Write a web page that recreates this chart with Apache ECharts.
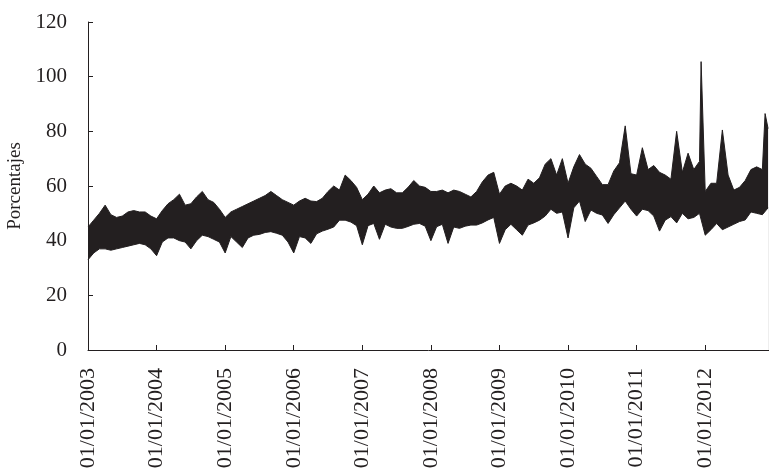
<!DOCTYPE html>
<html>
<head>
<meta charset="utf-8">
<script src="https://cdn.jsdelivr.net/npm/echarts@6/dist/echarts.min.js"></script>
<style>
  html, body { margin: 0; padding: 0; background: #fff; }
  #chart { width: 769px; height: 469px; }
</style>
</head>
<body>
<div id="chart"></div>
<script>
// monthly envelope of the daily series, Jan 2003 .. Dec 2012
const startYear = 2003
const upperVals = [
  45, 47.5, 50, 53, 49.5, 48.5, 49, 50.5, 51, 50.5, 50.5, 49,
  48, 51, 53.5, 55, 57, 53, 53.5, 56, 58, 55, 54, 51.5,
  48.5, 50.5, 51.5, 52.5, 53.5, 54.5, 55.5, 56.5, 58, 56.5, 55, 54,
  53, 54.5, 55.5, 54.5, 54.3, 55.5, 58, 60, 58.5, 64, 62, 59.5,
  55, 57, 60, 57.5, 58.5, 59, 57.5, 57.5, 59.5, 62, 60, 59.5,
  58, 58, 58.5, 57.5, 58.5, 58, 57, 56, 58, 61.5, 64, 65,
  57, 60, 61, 60, 58.5, 62.5, 61, 63, 68, 70, 64, 70,
  61, 67, 71.5, 68, 66.5, 63.5, 60.5, 60.5, 65.5, 68.5, 82, 64.5,
  64, 74, 66, 67.5, 65, 64, 62.5, 80, 65, 72, 66, 69,
  58, 61, 61, 80.5, 64, 58.5, 59.5, 62, 66, 67, 66, 81
]
const lowerVals = [
  33, 35.5, 37, 37, 36.5, 37, 37.5, 38, 38.5, 39, 38.5, 37,
  34.5, 39.5, 41, 41, 40, 39.5, 37, 40, 42, 41.5, 40.5, 39.5,
  35.5, 41.5, 39.5, 37.5, 41, 42, 42.3, 43, 43.3, 42.7, 42, 39.5,
  35.5, 41.5, 41, 39, 42.5, 43.5, 44.2, 45, 47.5, 47.5, 46.8, 45.5,
  38.5, 45.5, 46.3, 40.5, 46, 45, 44.5, 44.5, 45.2, 46, 46.3, 45.3,
  40, 45.1, 46, 39, 45, 44.5, 45.3, 45.7, 45.7, 46.5, 47.6, 48.5,
  39, 44, 46, 44, 42, 45.7, 46.5, 47.5, 49, 51.5, 50, 50.5,
  41, 52, 54.5, 47, 51.2, 50, 49.4, 46.3, 49.5, 52, 54.5, 51.5,
  49, 51.5, 51, 49, 43.5, 47.5, 48.8, 46.5, 50, 48, 48.5, 50,
  42, 44, 46.3, 44, 45, 46, 47, 47.6, 50.5, 50, 49.5, 52
]
// isolated one-day peaks [year, value]
const spikes = [[2011.94, 105.5], [2012.873, 86.5]]
const yearTicks = [2003, 2004, 2005, 2006, 2007, 2008, 2009, 2010, 2011, 2012]

const ink = '#231f20'
const font = 'Liberation Serif'

const upperData = upperVals.map((v, i) => [startYear + i / 12, v])
  .concat(spikes)
  .sort((a, b) => a[0] - b[0])
const lowerData = lowerVals.map((v, i) => [startYear + i / 12, v])

const chart = echarts.init(document.getElementById('chart'))

chart.setOption({
  animation: false,
  grid: { left: 88, right: 0, top: 22, bottom: 119, outerBoundsMode: 'none', containLabel: false },
  xAxis: {
    type: 'value',
    min: 2003,
    max: 2012.93,
    interval: 1,
    z: 10,
    splitLine: { show: false },
    axisLine: { lineStyle: { color: ink, width: 1 } },
    axisTick: { inside: true, length: 5, lineStyle: { color: ink } },
    axisLabel: {
      rotate: 90,
      margin: 18,
      color: ink,
      fontFamily: font,
      fontSize: 22,
      formatter: v => yearTicks.includes(v) ? '01/01/' + v : ''
    }
  },
  yAxis: {
    type: 'value',
    min: 0,
    max: 120,
    interval: 20,
    z: 10,
    name: 'Porcentajes',
    nameLocation: 'middle',
    nameGap: 60,
    nameTextStyle: { color: ink, fontFamily: font, fontSize: 19 },
    splitLine: { show: false },
    axisLine: { show: true, lineStyle: { color: ink, width: 1 } },
    axisTick: { show: true, inside: true, length: 5, lineStyle: { color: ink } },
    axisLabel: { margin: 21, color: ink, fontFamily: font, fontSize: 21 }
  },
  series: [
    {
      type: 'line',
      data: upperData,
      showSymbol: false,
      z: 2,
      lineStyle: { color: ink, width: 1 },
      areaStyle: { color: ink, opacity: 1 }
    },
    {
      type: 'line',
      data: lowerData,
      showSymbol: false,
      z: 3,
      lineStyle: { color: ink, width: 1 },
      areaStyle: { color: '#ffffff', opacity: 1 }
    }
  ]
})
</script>
</body>
</html>
